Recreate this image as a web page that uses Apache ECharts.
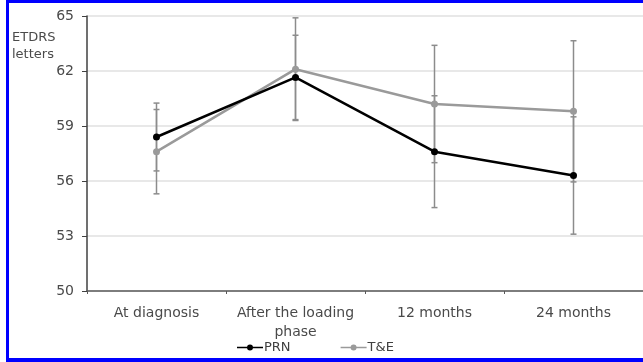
<!DOCTYPE html>
<html>
<head>
<meta charset="utf-8">
<script src="https://cdn.jsdelivr.net/npm/echarts@6/dist/echarts.min.js"></script>
<style>html,body{margin:0;padding:0;background:#fff;}#c{width:643px;height:362px;}</style>
</head>
<body>
<div id="c"></div>
<script>
var categories = ['At diagnosis', 'After the loading\nphase', '12 months', '24 months'];
var prnMean = [58.4, 61.65, 57.6, 56.3];
var prnErr = [1.85, 2.3, 3.05, 3.2];
var teMean = [57.6, 62.1, 60.2, 59.8];
var teErr = [2.3, 2.8, 3.2, 3.85];
var yTicks = [50, 53, 56, 59, 62, 65];

function errData(mean, err) {
  return mean.map(function (m, i) { return [i, m - err[i], m + err[i]]; });
}
function errRender(params, api) {
  var x = api.value(0);
  var lo = api.coord([x, api.value(1)]);
  var hi = api.coord([x, api.value(2)]);
  var w = 3;
  var st = { stroke: '#8c8c8c', lineWidth: 1.5 };
  return {
    type: 'group',
    children: [
      { type: 'line', shape: { x1: hi[0], y1: hi[1], x2: lo[0], y2: lo[1] }, style: st },
      { type: 'line', shape: { x1: hi[0] - w, y1: hi[1], x2: hi[0] + w, y2: hi[1] }, style: st },
      { type: 'line', shape: { x1: lo[0] - w, y1: lo[1], x2: lo[0] + w, y2: lo[1] }, style: st }
    ]
  };
}

var iconPath = 'path://M0,2.2L26,2.2L26,3.8L0,3.8Z M13,0A3,3 0 1,1 13,6A3,3 0 1,1 13,0Z';

var chart = echarts.init(document.getElementById('c'), null, { renderer: 'canvas' });
var font = 'DejaVu Sans';
chart.setOption({
  animation: false,
  textStyle: { fontFamily: font },
  graphic: [
    { type: 'rect', shape: { x: 6, y: 0, width: 700, height: 3 }, style: { fill: '#0000ff' } },
    { type: 'rect', shape: { x: 6, y: 0, width: 3, height: 362 }, style: { fill: '#0000ff' } },
    { type: 'rect', shape: { x: 6, y: 358, width: 700, height: 4 }, style: { fill: '#0000ff' } },
    { type: 'text', left: 12, top: 29, style: { text: 'ETDRS\nletters', fill: '#4a4a4a', font: '13px "DejaVu Sans"', lineHeight: 17 } }
  ],
  grid: { left: 87, top: 16, width: 557, bottom: 71, containLabel: false },
  legend: {
    bottom: 3,
    left: 232,
    itemGap: 50,
    itemWidth: 26,
    itemHeight: 6,
    textStyle: { color: '#404040', fontSize: 13, fontFamily: font, padding: [0, 0, 0, -4] },
    data: [
      { name: 'PRN', icon: iconPath },
      { name: 'T&E', icon: iconPath }
    ]
  },
  xAxis: {
    type: 'category',
    data: categories,
    axisLine: { lineStyle: { color: '#595959', width: 1.5 } },
    axisTick: { show: true, length: 3, lineStyle: { color: '#595959' } },
    axisLabel: { color: '#4a4a4a', fontSize: 14, fontFamily: font, margin: 13, lineHeight: 19, interval: 0 }
  },
  yAxis: {
    type: 'value',
    min: 50, max: 65, interval: 3,
    axisLine: { show: true, lineStyle: { color: '#404040', width: 1.5 } },
    axisTick: { show: true, length: 5, lineStyle: { color: '#404040' } },
    axisLabel: { color: '#4a4a4a', fontSize: 14, fontFamily: font, margin: 13,
      formatter: function (v) { return yTicks.indexOf(v) >= 0 ? String(v) : ''; } },
    splitLine: { lineStyle: { color: '#e0e0e0', width: 1.5 } }
  },
  series: [
    { name: 'PRN err', type: 'custom', renderItem: errRender, data: errData(prnMean, prnErr), z: 1, encode: { x: 0, y: [1, 2] } },
    { name: 'T&E err', type: 'custom', renderItem: errRender, data: errData(teMean, teErr), z: 1, encode: { x: 0, y: [1, 2] } },
    { name: 'T&E', type: 'line', data: teMean, symbol: 'circle', symbolSize: 7, z: 3,
      itemStyle: { color: '#9a9a9a' }, lineStyle: { color: '#9a9a9a', width: 2.5 } },
    { name: 'PRN', type: 'line', data: prnMean, symbol: 'circle', symbolSize: 7, z: 4,
      itemStyle: { color: '#000' }, lineStyle: { color: '#000', width: 2.5 } }
  ]
});
</script>
</body>
</html>
